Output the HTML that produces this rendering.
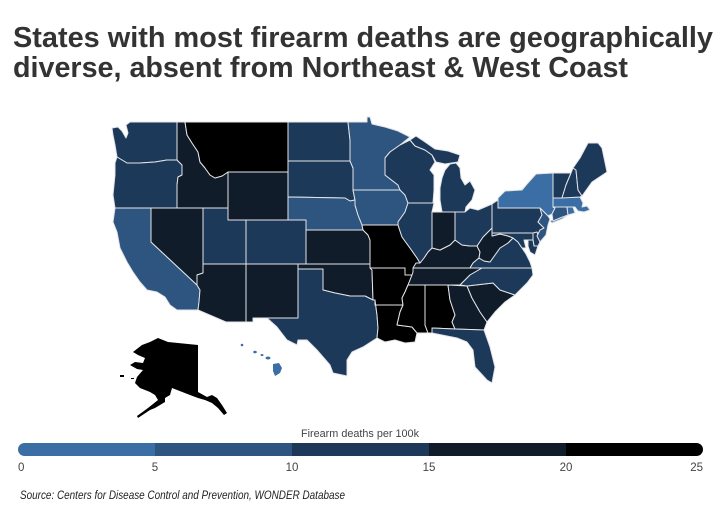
<!DOCTYPE html>
<html>
<head>
<meta charset="utf-8">
<style>
html,body{margin:0;padding:0;background:#fff;}
svg{display:block;}
</style>
</head>
<body>
<svg width="725" height="508" viewBox="0 0 725 508" xmlns="http://www.w3.org/2000/svg">
<rect width="725" height="508" fill="#fff"/>
<text x="13" y="47" font-family="'Liberation Sans', sans-serif" font-weight="bold" font-size="29" fill="#333" textLength="700" lengthAdjust="spacingAndGlyphs">States with most firearm deaths are geographically</text>
<text x="13" y="77" font-family="'Liberation Sans', sans-serif" font-weight="bold" font-size="29" fill="#333" textLength="615" lengthAdjust="spacingAndGlyphs">diverse, absent from Northeast &amp; West Coast</text>

<g stroke="#e2e4e8" stroke-width="1" stroke-linejoin="round">
<!-- WA --><path fill="#1d3959" d="M112,128 L118,127 L122,131 L126,138 L128,133 L126,125 L130,122 L177,122 L177,160 L167,160 L155,162 L140,163 L127,163 L117,157 L115,145 L113,135 Z"/>
<!-- OR --><path fill="#1d3959" d="M117,157 L127,163 L140,163 L155,162 L167,160 L177,160 L182,165 L182,175 L178,177 L177,185 L177,208 L115,208 L113,195 L115,175 L115,163 Z"/>
<!-- CA --><path fill="#2d5580" d="M115,208 L151,208 L151,242 L197,285 L200,290 L199,302 L198,310 L177,310 L170,305 L165,297 L157,292 L147,290 L140,282 L133,272 L127,262 L120,248 L117,232 L113,222 Z"/>
<!-- NV --><path fill="#101c2a" d="M151,208 L203,208 L203,273 L197,275 L197,285 L151,242 Z"/>
<!-- ID --><path fill="#101c2a" d="M177,122 L185,122 L187,135 L192,143 L198,152 L200,162 L205,168 L210,175 L215,178 L222,176 L228,172 L228,208 L177,208 L177,185 L178,177 L182,175 L182,165 L177,160 Z"/>
<!-- MT --><path fill="#000" d="M185,122 L288,122 L288,172 L228,172 L222,176 L215,178 L210,175 L205,168 L200,162 L198,152 L192,143 L187,135 Z"/>
<!-- WY --><path fill="#101c2a" d="M228,172 L288,172 L288,220 L228,220 Z"/>
<!-- UT --><path fill="#1d3959" d="M203,208 L228,208 L228,220 L246,220 L246,264 L203,264 Z"/>
<!-- CO --><path fill="#1d3959" d="M246,220 L306,220 L306,264 L246,264 Z"/>
<!-- AZ --><path fill="#101c2a" d="M203,264 L246,264 L246,322 L226,322 L198,310 L199,302 L200,290 L197,285 L197,275 L203,273 Z"/>
<!-- NM --><path fill="#101c2a" d="M246,264 L298,264 L298,318 L267,318 L253,318 L253,322 L246,322 Z"/>
<!-- ND --><path fill="#1d3959" d="M288,122 L348,122 L350,140 L350,161 L288,161 Z"/>
<!-- SD --><path fill="#1d3959" d="M288,161 L350,161 L353,168 L353,190 L355,200 L350,201 L345,198 L288,197 Z"/>
<!-- NE --><path fill="#2d5580" d="M288,197 L345,198 L350,201 L355,200 L355,205 L358,215 L362,225 L363,230 L306,230 L306,220 L288,220 Z"/>
<!-- KS --><path fill="#101c2a" d="M306,230 L363,230 L368,235 L370,240 L370,264 L306,264 Z"/>
<!-- OK --><path fill="#101c2a" d="M298,264 L370,264 L372,270 L373,300 L365,296 L350,296 L335,293 L323,290 L323,269 L298,269 Z"/>
<!-- TX --><path fill="#1d3959" d="M298,269 L323,269 L323,290 L335,293 L350,296 L365,296 L373,300 L375,300 L377,315 L378,328 L377,338 L363,347 L352,352 L347,360 L347,376 L333,373 L330,365 L317,350 L307,340 L298,340 L297,345 L287,340 L277,327 L267,318 L298,318 Z"/>
<!-- MN --><path fill="#2d5580" d="M348,122 L367,122 L367,117 L370,117 L372,124 L385,127 L398,131 L410,137 L400,145 L390,152 L385,158 L385,175 L398,185 L400,190 L353,190 L353,168 L350,161 L350,140 Z"/>
<!-- IA --><path fill="#2d5580" d="M353,190 L400,190 L405,195 L408,203 L405,212 L398,222 L398,225 L362,225 L358,215 L355,205 L355,200 Z"/>
<!-- MO --><path fill="#000" d="M362,225 L398,225 L402,237 L410,248 L417,258 L420,263 L416,268 L413,275 L405,275 L405,268 L370,268 L370,240 L368,235 L363,230 Z"/>
<!-- AR --><path fill="#000" d="M370,268 L405,268 L405,275 L412,275 L410,280 L408,285 L405,292 L402,298 L403,305 L375,305 L375,300 L373,300 L372,270 Z"/>
<!-- LA --><path fill="#000" d="M375,305 L403,305 L400,312 L397,325 L412,327 L417,333 L415,342 L405,343 L395,340 L385,342 L377,338 L378,328 L377,315 L375,300 Z"/>
<!-- MS --><path fill="#000" d="M408,285 L425,285 L425,325 L428,333 L417,333 L412,327 L397,325 L400,312 L403,305 L402,298 L405,292 Z"/>
<!-- TN --><path fill="#101c2a" d="M413,268 L482,268 L470,275 L460,285 L425,285 L408,285 L410,280 L412,275 L413,272 Z"/>
<!-- AL --><path fill="#000" d="M425,285 L448,285 L450,300 L455,315 L452,322 L455,329 L432,328 L432,333 L428,333 L425,325 Z"/>
<!-- GA --><path fill="#101c2a" d="M448,285 L467,286 L472,298 L480,312 L487,322 L484,330 L455,329 L452,322 L455,315 L450,300 Z"/>
<!-- FL --><path fill="#1d3959" d="M432,328 L455,329 L484,330 L490,347 L495,367 L492,383 L487,380 L475,367 L473,350 L467,342 L457,338 L447,336 L437,334 L432,333 Z"/>
<!-- SC --><path fill="#101c2a" d="M467,286 L493,283 L500,290 L515,295 L505,302 L495,312 L487,322 L480,312 L472,298 Z"/>
<!-- NC --><path fill="#1d3959" d="M482,268 L532,268 L533,275 L527,283 L515,295 L500,290 L493,283 L467,286 L460,285 L470,275 Z"/>
<!-- KY --><path fill="#101c2a" d="M413,268 L416,263 L420,263 L424,258 L428,252 L432,248 L440,250 L450,245 L455,240 L462,245 L470,246 L477,246 L480,252 L479,258 L473,263 L470,268 Z"/>
<!-- VA --><path fill="#1d3959" d="M470,268 L473,263 L479,258 L484,261 L490,262 L495,255 L500,248 L508,243 L513,238 L518,242 L522,248 L526,254 L530,262 L532,268 Z"/>
<!-- WV --><path fill="#101c2a" d="M477,246 L483,237 L490,230 L492,228 L492,236 L500,234 L508,236 L513,238 L508,243 L500,248 L495,255 L490,262 L484,261 L479,258 L480,252 Z"/>
<!-- OH --><path fill="#1d3959" d="M455,212 L465,212 L470,208 L478,210 L485,207 L492,204 L492,228 L490,230 L483,237 L477,246 L470,246 L462,245 L455,240 Z"/>
<!-- IN --><path fill="#101c2a" d="M432,212 L455,212 L455,240 L450,245 L440,250 L432,248 Z"/>
<!-- IL --><path fill="#1d3959" d="M408,203 L434,203 L432,212 L432,248 L428,252 L424,258 L420,263 L417,258 L410,248 L402,237 L398,225 L398,222 L405,212 Z"/>
<!-- WI --><path fill="#1d3959" d="M400,145 L410,140 L415,146 L425,150 L432,155 L435,162 L430,170 L434,175 L434,190 L433,203 L408,203 L405,195 L400,190 L398,185 L385,175 L385,158 L390,152 Z"/>
<!-- MI UP --><path fill="#1d3959" d="M410,140 L416,136 L425,142 L435,149 L448,151 L460,155 L458,162 L445,164 L436,162 L432,155 L425,150 L415,146 Z"/>
<!-- MI LP --><path fill="#1d3959" d="M442,212 L440,200 L440,188 L442,178 L445,170 L450,164 L456,163 L460,168 L461,178 L465,185 L470,181 L475,190 L472,200 L466,207 L465,212 Z"/>
<!-- PA --><path fill="#1d3959" d="M492,204 L498,200 L498,208 L540,208 L542,215 L538,222 L544,228 L540,233 L492,233 Z"/>
<!-- MD --><path fill="#1d3959" d="M492,233 L533,233 L533,240 L528,240 L524,240 L526,248 L522,248 L518,242 L513,238 L508,236 L500,234 L492,236 Z"/>
<!-- DE --><path fill="#1d3959" d="M533,233 L537,232 L540,242 L538,246 L534,246 L533,240 Z"/>
<!-- Eastern shore --><path fill="#1d3959" d="M528,240 L533,240 L534,246 L538,246 L535,255 L530,252 L528,246 Z"/>
<!-- NY --><path fill="#3a6ea5" d="M498,208 L498,198 L505,191 L522,190 L527,184 L536,174 L553,173 L553,198 L553,207 L555,208 L552,214 L548,216 L544,212 L540,208 Z"/>
<!-- Long Island --><path fill="#3a6ea5" d="M550,221 L556,218 L566,214 L570,214 L562,219 L552,223 Z"/>
<!-- NJ --><path fill="#2d5580" d="M540,208 L544,212 L548,216 L550,219 L548,225 L546,235 L540,242 L537,236 L540,230 L544,228 L538,222 L542,215 Z"/>
<!-- CT --><path fill="#2d5580" d="M553,207 L567,207 L568,215 L560,218 L553,221 L552,214 L555,208 Z"/>
<!-- RI --><path fill="#3a6ea5" d="M567,207 L573,207 L575,213 L568,215 Z"/>
<!-- MA --><path fill="#3a6ea5" d="M553,198 L580,197 L583,203 L582,207 L587,206 L590,210 L584,212 L578,211 L575,207 L553,207 Z"/>
<!-- VT --><path fill="#1d3959" d="M553,173 L571,173 L566,185 L562,198 L553,198 Z"/>
<!-- NH --><path fill="#1d3959" d="M571,173 L573,168 L576,170 L578,190 L582,196 L580,197 L562,198 L566,185 Z"/>
<!-- ME --><path fill="#1d3959" d="M573,168 L580,158 L588,143 L598,143 L602,148 L607,172 L592,182 L582,196 L578,190 L576,170 Z"/>
</g>

<!-- Alaska -->
<path fill="#000" d="M133,352 L142,345 L150,342 L158,338 L168,342 L198,345 L198,392 L207,397 L212,395 L217,398 L222,405 L227,413 L224,415 L218,408 L212,403 L205,400 L198,398 L190,395 L172,388 L170,395 L165,398 L165,402 L155,408 L150,410 L138,418 L137,416 L148,408 L158,400 L155,395 L150,392 L140,388 L135,383 L137,377 L143,370 L137,369 L130,365 L135,362 L143,363 L145,358 L138,355 Z"/>
<path fill="#000" d="M120,375 L124,375 L124,377 L120,377 Z"/>
<path fill="#000" d="M131,378 L134,378 L134,379 L131,379 Z"/>
<!-- Hawaii -->
<g fill="#3a6ea5">
<circle cx="242" cy="345" r="1.3"/>
<ellipse cx="255" cy="352" rx="1.8" ry="1.3"/>
<ellipse cx="262" cy="355" rx="1.5" ry="1"/>
<ellipse cx="268" cy="358" rx="2.5" ry="1.5"/>
<path d="M273,364 L279,363 L282,368 L280,373 L275,376 L273,371 Z"/>
</g>

<!-- Legend -->
<text x="360" y="437" text-anchor="middle" font-family="'Liberation Sans', sans-serif" font-size="11" fill="#444" textLength="118" lengthAdjust="spacingAndGlyphs">Firearm deaths per 100k</text>
<defs>
<clipPath id="barclip"><rect x="18" y="443" width="685" height="13" rx="6.5" ry="6.5"/></clipPath>
</defs>
<g clip-path="url(#barclip)">
<rect x="18" y="443" width="137" height="13" fill="#3a6ea5"/>
<rect x="155" y="443" width="137" height="13" fill="#2d5580"/>
<rect x="292" y="443" width="137" height="13" fill="#1d3959"/>
<rect x="429" y="443" width="137" height="13" fill="#101c2a"/>
<rect x="566" y="443" width="137" height="13" fill="#000"/>
</g>
<g font-family="'Liberation Sans', sans-serif" font-size="11.5" fill="#444">
<text x="18" y="471">0</text>
<text x="155" y="471" text-anchor="middle">5</text>
<text x="292" y="471" text-anchor="middle">10</text>
<text x="429" y="471" text-anchor="middle">15</text>
<text x="566" y="471" text-anchor="middle">20</text>
<text x="703" y="471" text-anchor="end">25</text>
</g>
<text x="20" y="499" font-family="'Liberation Sans', sans-serif" font-style="italic" font-size="11.5" fill="#222" textLength="325" lengthAdjust="spacingAndGlyphs">Source: Centers for Disease Control and Prevention, WONDER Database</text>
</svg>
</body>
</html>
